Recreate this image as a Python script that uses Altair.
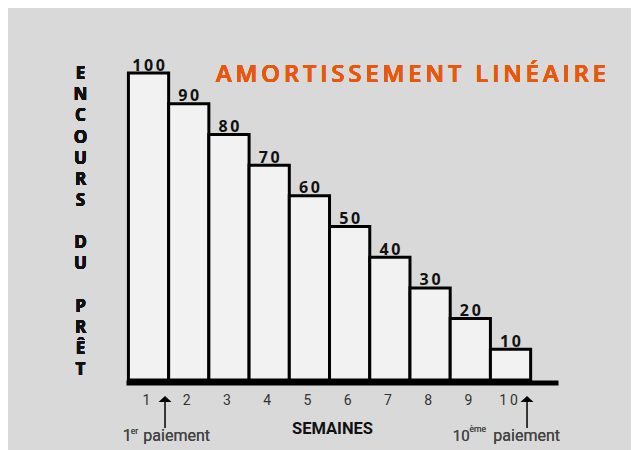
import altair as alt
import pandas as pd

# ---- data ----
weeks = [1, 2, 3, 4, 5, 6, 7, 8, 9, 10]
balance = [100, 90, 80, 70, 60, 50, 40, 30, 20, 10]
payment_weeks = [1, 10]
payment_prefix = ["1", "10"]
payment_sup = ["er", "ème"]
payment_word = "paiement"
title_text = "AMORTISSEMENT LINÉAIRE"
y_title_words = ["ENCOURS", "DU", "PRÊT"]
x_title = "SEMAINES"

THIN = "\u2009"


def spaced(s):
    return THIN.join(s)


df = pd.DataFrame({
    "week": weeks,
    "balance": balance,
    "label": [spaced(str(b)) for b in balance],
})
arrows = pd.DataFrame({"week": payment_weeks})

xs = alt.Scale(domain=[0.44, 11.18], nice=False, zero=False)
ys = alt.Scale(domain=[0, 113.4], nice=False)

base = alt.Chart(df)

bars = base.transform_calculate(
    x0="datum.week - 0.5", x1="datum.week + 0.5"
).mark_bar(fill="#f2f2f2", stroke="#000000", strokeWidth=3).encode(
    x=alt.X(
        "x0:Q",
        scale=xs,
        axis=alt.Axis(
            values=weeks,
            format="d",
            labelExpr="join(split(datum.label,''),'\u2009')",
            title=x_title,
            titleFont="Roboto",
            titleFontWeight="bold",
            titleFontSize=16.5,
            titleColor="#111111",
            titleX=206,
            titleY=51,
            titleAlign="center",
            titleBaseline="alphabetic",
            titleAnchor="start",
            domain=True,
            domainColor="#000000",
            domainWidth=5,
            ticks=False,
            tickSize=0,
            grid=False,
            labelFont="Roboto",
            labelFontSize=14,
            labelColor="#333333",
            labelBaseline="alphabetic",
            labelPadding=21.8,
            labelOffset=-2.5,
            offset=2.5,
        ),
    ),
    x2="x1:Q",
    y=alt.Y("balance:Q", scale=ys, axis=None),
    y2=alt.datum(0),
)

values = base.mark_text(
    baseline="alphabetic", dy=-2.5, font="Open Sans", fontWeight="bold",
    fontSize=16, color="#111111",
).encode(
    x=alt.X("week:Q", scale=xs),
    y=alt.Y("balance:Q", scale=ys),
    text="label:N",
)

title = alt.Chart(df).mark_text(
    text=spaced(title_text), font="Open Sans", fontWeight=600, fontSize=23.7,
    color="#E8580C", align="center", baseline="alphabetic",
).encode(x=alt.value(285), y=alt.value(49.7))

# vertical y-axis title: one letter per line, one word block at a time
LINE_H = 21.14
ylabs = []
line_idx = 0
for word in y_title_words:
    ylabs.append(
        alt.Chart(df).mark_text(
            text=list(word), font="Open Sans", fontWeight="bold", fontSize=17,
            color="#111111", align="center", baseline="alphabetic",
            lineHeight=LINE_H,
        ).encode(x=alt.value(-45.5), y=alt.value(47.1 + line_idx * LINE_H))
    )
    line_idx += len(word) + 1

arr = alt.Chart(arrows).transform_calculate(ax="datum.week + 0.41")
arrow_line = arr.mark_rule(color="#000000", strokeWidth=1.5).encode(
    x=alt.X("ax:Q", scale=xs), y=alt.value(367), y2=alt.value(396)
)
arrow_head = arr.mark_point(
    shape="M-1,0.45L0,-0.45L1,0.45Z", filled=True, fill="#000000",
    opacity=1, size=169, strokeWidth=0,
).encode(x=alt.X("ax:Q", scale=xs), y=alt.value(367))

ann_layers = []
dxs = [(-42.3, -34.3, -21.7, 402, 16), (-74.3, -57.5, -33.7, 399.5, 15)]
for wk, pre, sup, (d1, d2, d3, sy, pfs) in zip(payment_weeks, payment_prefix, payment_sup, dxs):
    ax = wk + 0.41
    common = dict(font="Roboto", color="#444444", align="left", baseline="alphabetic")
    ann_layers.append(alt.Chart(arrows).mark_text(text=pre, fontSize=pfs, dx=d1, **common)
                      .encode(x=alt.datum(ax, scale=xs), y=alt.value(409)))
    ann_layers.append(alt.Chart(arrows).mark_text(text=sup, fontSize=8.5, dx=d2, **common)
                      .encode(x=alt.datum(ax, scale=xs), y=alt.value(sy)))
    ann_layers.append(alt.Chart(arrows).mark_text(text=payment_word, fontSize=16, dx=d3, **common)
                      .encode(x=alt.datum(ax, scale=xs), y=alt.value(409)))

chart = alt.layer(
    bars, values, title, *ylabs, arrow_line, arrow_head, *ann_layers
).properties(
    width=432,
    height=348,
    background="#d9d9d9",
    padding={"left": 118, "top": 24, "right": 73, "bottom": 70},
    autosize=alt.AutoSizeParams(type="none"),
).configure_view(stroke=None)

chart.save("out.html", embed_options={"renderer": "svg", "actions": False})
